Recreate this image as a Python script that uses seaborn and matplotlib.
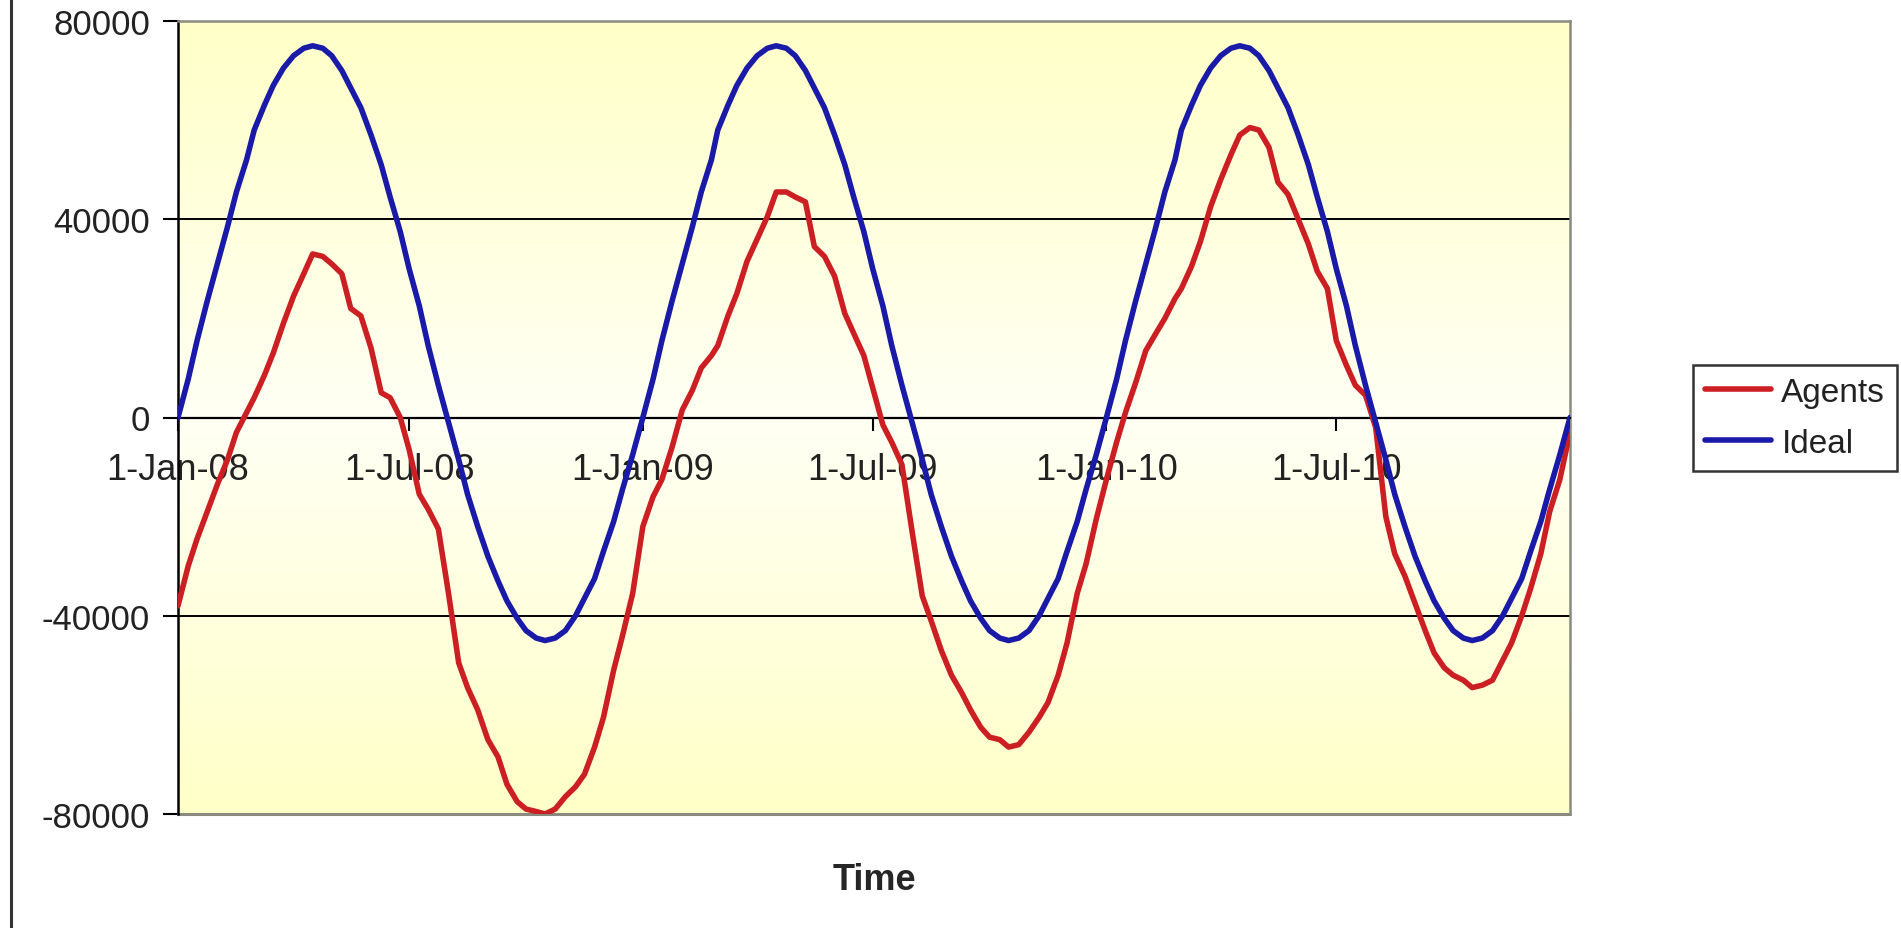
import datetime
import matplotlib
matplotlib.use('Agg')
import matplotlib.pyplot as plt
from matplotlib.lines import Line2D
from matplotlib.colors import LinearSegmentedColormap
from matplotlib.ticker import FuncFormatter
import numpy as np
import pandas as pd
import seaborn as sns

sns.set_style('white')
plt.rcParams['font.family'] = ['Liberation Sans', 'DejaVu Sans']

# fechas: dias 1, 9, 16 y 24 de cada mes
dates = []
for year in (2008, 2009, 2010):
    for month in range(1, 13):
        for day in (1, 9, 16, 24):
            dates.append(datetime.date(year, month, day))
dates.append(datetime.date(2011, 1, 1))
dates = pd.to_datetime(dates)

agents = [
    # 2008
    -38000, -30000, -24500, -19000, -13500, -8500, -3000, 1000, 4000, 8500, 13000, 19000,
    24500, 29000, 33000, 32500, 31000, 29000, 22000, 20500, 14000, 5000, 4000, 0,
    -6500, -15500, -18500, -22500, -35500, -49500, -54500, -59000, -65000, -68500, -74000, -77500,
    -79000, -79500, -80000, -79000, -76500, -74500, -72000, -66500, -60500, -51000, -44000, -35500,
    # 2009
    -22000, -16000, -12500, -6000, 1500, 5500, 10000, 12500, 14500, 20500, 25000, 31500,
    36000, 40500, 45500, 45500, 44500, 43500, 34500, 32500, 28500, 21000, 17000, 12500,
    6000, -1500, -5000, -9500, -23000, -36000, -41000, -47000, -52000, -55500, -59000, -62500,
    -64500, -65000, -66500, -66000, -63500, -60500, -57500, -52000, -45500, -35500, -29500, -20500,
    # 2010
    -12500, -5000, 1000, 7000, 13500, 17000, 20000, 24000, 26000, 30500, 35500, 42500,
    48000, 53000, 57000, 58500, 58000, 54500, 47500, 45000, 40000, 35000, 29500, 26000,
    15500, 10500, 6500, 4500, -2000, -20000, -27500, -32000, -37500, -43000, -47500, -50500,
    -52000, -53000, -54500, -54000, -53000, -49000, -45500, -40000, -34500, -27500, -19000, -12500,
    # 1-Jan-11
    -3000]

ideal = [
    0, 7700, 15500, 23500, 31000, 38500, 45500, 52000, 58000, 63000, 67000, 70500,
    73000, 74500, 75000, 74500, 73000, 70000, 66500, 62500, 57000, 51000, 44500, 37500,
    30000, 22500, 14500, 6500, -1000, -8500, -15500, -22000, -28000, -33000, -37000, -40500,
    -43000, -44500, -45000, -44500, -43000, -40000, -36500, -32500, -27000, -21000, -14500, -7500,
    0, 7700, 15500, 23500, 31000, 38500, 45500, 52000, 58000, 63000, 67000, 70500,
    73000, 74500, 75000, 74500, 73000, 70000, 66500, 62500, 57000, 51000, 44500, 37500,
    30000, 22500, 14500, 6500, -1000, -8500, -15500, -22000, -28000, -33000, -37000, -40500,
    -43000, -44500, -45000, -44500, -43000, -40000, -36500, -32500, -27000, -21000, -14500, -7500,
    0, 7700, 15500, 23500, 31000, 38500, 45500, 52000, 58000, 63000, 67000, 70500,
    73000, 74500, 75000, 74500, 73000, 70000, 66500, 62500, 57000, 51000, 44500, 37500,
    30000, 22500, 14500, 6500, -1000, -8500, -15500, -22000, -28000, -33000, -37000, -40500,
    -43000, -44500, -45000, -44500, -43000, -40000, -36500, -32500, -27000, -21000, -14500, -7500,
    0]

tick_dates = pd.to_datetime(['2008-01-01', '2008-07-01', '2009-01-01', '2009-07-01', '2010-01-01', '2010-07-01'])
tick_labels = ['1-Jan-08', '1-Jul-08', '1-Jan-09', '1-Jul-09', '1-Jan-10', '1-Jul-10']
y_ticks = [-80000, -40000, 0, 40000, 80000]

red = '#cc1f24'
blue = '#1a1aa8'

df = pd.DataFrame({'date': list(dates) * 2,
                   'value': agents + ideal,
                   'series': ['Agents'] * len(agents) + ['Ideal'] * len(ideal)})

fig = plt.figure(figsize=(19.01, 9.29), dpi=100)
ax = fig.add_axes([178 / 1901, 1 - 815 / 929, (1570 - 178) / 1901, (815 - 22) / 929])

# fondo degradado amarillo (amarillo arriba y abajo, casi blanco al centro)
grad = np.abs(np.linspace(-1, 1, 256)).reshape(-1, 1)
cmap = LinearSegmentedColormap.from_list('bg', ['#fffff4', '#ffffc8'])
ax.imshow(grad, cmap=cmap, extent=[0, 1, 0, 1], transform=ax.transAxes, aspect='auto', zorder=0)

sns.lineplot(data=df, x='date', y='value', hue='series',
             palette={'Agents': red, 'Ideal': blue}, lw=4.0, ax=ax, legend=False, zorder=3)

ax.set_xlim(pd.Timestamp('2008-01-01'), pd.Timestamp('2011-01-01'))
ax.set_ylim(-80000, 80000)
ax.set_yticks(y_ticks)
ax.yaxis.set_major_formatter(FuncFormatter(lambda v, p: f'{int(v)}'))
ax.set_xticks(tick_dates)
ax.set_xticklabels(tick_labels)
ax.set_xlabel('')
ax.set_ylabel('')

ax.set_axisbelow(True)
ax.yaxis.grid(True, color='black', lw=1.4)
ax.xaxis.grid(False)

ax.spines['bottom'].set_position(('data', 0))
ax.spines['bottom'].set_color('black')
ax.spines['bottom'].set_linewidth(1.6)
ax.spines['left'].set_color('black')
ax.spines['left'].set_linewidth(1.8)
for s in ('top', 'right'):
    ax.spines[s].set_color('#8a8a80')
    ax.spines[s].set_linewidth(1.8)
ax.axhline(-80000, color='#8a8a80', lw=2.2, clip_on=False, zorder=2.5)

ax.tick_params(axis='y', direction='out', length=11, width=1.5, labelsize=25, pad=9,
               color='black', labelcolor='#222222', left=True)
ax.tick_params(axis='x', direction='out', length=9, width=1.5, labelsize=26, pad=16,
               color='black', labelcolor='#222222', bottom=True)

handles = [Line2D([], [], color=red, lw=4.0, label='Agents'),
           Line2D([], [], color=blue, lw=4.0, label='Ideal')]
leg = fig.legend(handles=handles, loc='center', bbox_to_anchor=(1795 / 1901, 1 - 419 / 929),
                 frameon=True, fancybox=False, edgecolor='black', fontsize=24,
                 handlelength=2.0, handletextpad=0.3, borderpad=0.35, labelspacing=0.6,
                 borderaxespad=0)
leg.get_frame().set_linewidth(1.8)
for t in leg.get_texts():
    t.set_color('#222222')

fig.text(874 / 1901, 1 - 881 / 929, 'Time', ha='center', va='center', fontsize=26, fontweight='bold')

# borde izquierdo del grafico
fig.add_artist(Line2D([11 / 1901, 11 / 1901], [0, 1], transform=fig.transFigure, color='#333333', lw=2.2))

fig.savefig('out.png', dpi=100)
